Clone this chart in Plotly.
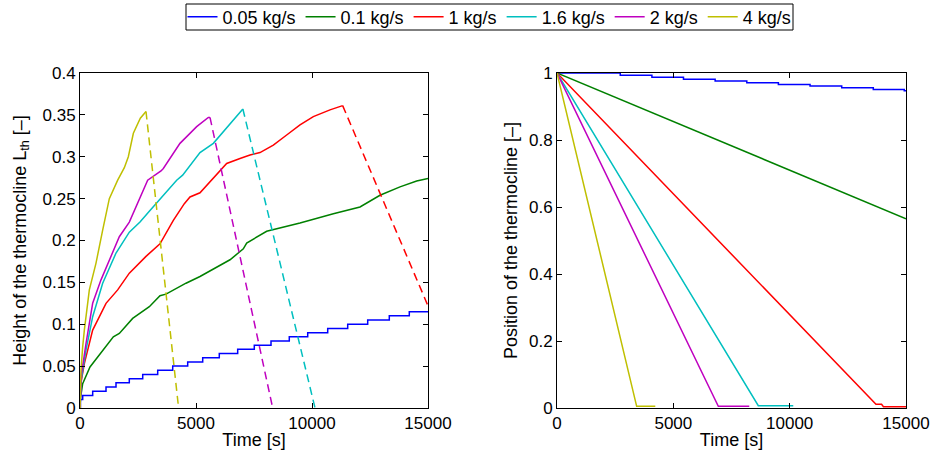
import plotly.graph_objects as go

W, H = 936, 459

names = ["0.05 kg/s", "0.1 kg/s", "1 kg/s", "1.6 kg/s", "2 kg/s", "4 kg/s"]
colors = ["#0000ff", "#008000", "#ff0000", "#00bfbf", "#bf00bf", "#bfbf00"]

# ---------- Left panel: height of the thermocline (solid = charging, dashed = discharge)
blue_t = [0, 20, 116, 547, 1121, 1552, 2125, 2703, 3349, 3996, 4642, 5289, 6004, 6797,
          7513, 8233, 9021, 9815, 10677, 11539, 12401, 13332, 14194, 15000]
blue_h = [0, 0.01, 0.015, 0.02, 0.025, 0.03, 0.035, 0.04, 0.045, 0.05, 0.055, 0.06, 0.065,
          0.07, 0.075, 0.08, 0.085, 0.09, 0.095, 0.1, 0.105, 0.11, 0.115, 0.115]

green_t = [0, 20, 72, 115, 431, 546, 1006, 1121, 1437, 1695, 2270, 2988, 3448, 3707, 4569,
           5172, 6000, 6466, 7040, 7184, 8046, 9483, 10920, 12069, 12931, 13793, 14511, 15000]
green_h = [0, 0.012, 0.021, 0.029, 0.049, 0.053, 0.069, 0.073, 0.085, 0.089, 0.107, 0.121,
           0.134, 0.136, 0.149, 0.157, 0.170, 0.177, 0.190, 0.197, 0.211, 0.221, 0.232,
           0.240, 0.254, 0.264, 0.271, 0.274]

red_t = [0, 40, 187, 546, 1121, 1624, 2126, 2845, 3448, 4023, 4497, 4741, 5172, 5460, 6322,
         6897, 7328, 7759, 8333, 8908, 9483, 10057, 10776, 11322]
red_h = [0, 0.03, 0.053, 0.093, 0.125, 0.141, 0.161, 0.181, 0.196, 0.224, 0.244, 0.252,
         0.257, 0.266, 0.292, 0.298, 0.302, 0.305, 0.314, 0.326, 0.338, 0.348, 0.356, 0.361]
red_dis_t = [11322, 15000]
red_dis_h = [0.361, 0.122]

cyan_t = [0, 60, 259, 546, 977, 1552, 2126, 2586, 2988, 3305, 3563, 4167, 4425, 5172, 5747,
          6322, 6897, 7020]
cyan_h = [0, 0.035, 0.069, 0.109, 0.149, 0.185, 0.21, 0.222, 0.235, 0.245, 0.252, 0.272,
          0.278, 0.305, 0.316, 0.334, 0.352, 0.357]
cyan_dis_t = [7020, 10130]
cyan_dis_h = [0.357, 0.0]

mag_t = [0, 60, 259, 546, 905, 1264, 1695, 2126, 2557, 2917, 3491, 3592, 4310, 5029, 5531, 5603]
mag_h = [0, 0.04, 0.077, 0.125, 0.153, 0.177, 0.2045, 0.222, 0.25, 0.272, 0.283, 0.286,
         0.316, 0.336, 0.347, 0.347]
mag_dis_t = [5603, 8305]
mag_dis_h = [0.347, 0.0]

yel_t = [0, 43, 115, 187, 402, 690, 977, 1264, 1624, 1911, 2083, 2300, 2600, 2845]
yel_h = [0, 0.045, 0.073, 0.093, 0.141, 0.173, 0.2125, 0.25, 0.272, 0.287, 0.300, 0.328,
         0.346, 0.354]
yel_dis_t = [2845, 4250]
yel_dis_h = [0.354, 0.0]

# ---------- Right panel: position of the thermocline
pblue_t = [0, 2718, 4079, 5436, 6797, 8158, 9515, 10876, 12237, 13594, 14925, 15000]
pblue_p = [1.0, 0.993, 0.987, 0.981, 0.976, 0.971, 0.966, 0.961, 0.956, 0.951, 0.947, 0.947]
pgreen_t = [0, 7500, 15000]
pgreen_p = [1.0, 0.782, 0.565]
pred_t = [0, 13709, 13950, 14030, 15000]
pred_p = [1.0, 0.011, 0.011, 0.004, 0.004]
pcyan_t = [0, 8652, 10155]
pcyan_p = [1.0, 0.007, 0.007]
pmag_t = [0, 6933, 8264]
pmag_p = [1.0, 0.005, 0.005]
pyel_t = [0, 3424, 4225]
pyel_p = [1.0, 0.005, 0.005]

x_ticks = [0, 5000, 10000, 15000]
x_tick_labels = ["0", "5000", "10000", "15000"]
left_y_ticks = [0, 0.05, 0.1, 0.15, 0.2, 0.25, 0.3, 0.35, 0.4]
left_y_labels = ["0", "0.05", "0.1", "0.15", "0.2", "0.25", "0.3", "0.35", "0.4"]
right_y_ticks = [0, 0.2, 0.4, 0.6, 0.8, 1]
right_y_labels = ["0", "0.2", "0.4", "0.6", "0.8", "1"]

fig = go.Figure()
LW = 1.5
DASH = "8px,5px"

left_solid = [(blue_t, blue_h), (green_t, green_h), (red_t, red_h),
              (cyan_t, cyan_h), (mag_t, mag_h), (yel_t, yel_h)]
left_dashed = [None, None, (red_dis_t, red_dis_h), (cyan_dis_t, cyan_dis_h),
               (mag_dis_t, mag_dis_h), (yel_dis_t, yel_dis_h)]
right = [(pblue_t, pblue_p), (pgreen_t, pgreen_p), (pred_t, pred_p),
         (pcyan_t, pcyan_p), (pmag_t, pmag_p), (pyel_t, pyel_p)]

for i, name in enumerate(names):
    x, y = left_solid[i]
    fig.add_trace(go.Scatter(x=x, y=y, mode="lines", name=name, legendgroup=name,
                             line=dict(color=colors[i], width=LW,
                                       shape="hv" if i == 0 else "linear"),
                             xaxis="x", yaxis="y"))
for i, name in enumerate(names):
    if left_dashed[i] is not None:
        x, y = left_dashed[i]
        fig.add_trace(go.Scatter(x=x, y=y, mode="lines", name=name, legendgroup=name,
                                 showlegend=False,
                                 line=dict(color=colors[i], width=LW, dash=DASH),
                                 xaxis="x", yaxis="y"))
for i, name in enumerate(names):
    x, y = right[i]
    fig.add_trace(go.Scatter(x=x, y=y, mode="lines", name=name, legendgroup=name,
                             showlegend=False,
                             line=dict(color=colors[i], width=LW,
                                       shape="hv" if i == 0 else "linear"),
                             xaxis="x2", yaxis="y2"))

axis_common = dict(showline=True, linecolor="black", linewidth=1, mirror="ticks",
                   ticks="inside", ticklen=5, tickcolor="black", showgrid=False,
                   zeroline=False, automargin=False,
                   tickfont=dict(size=17, color="black"))
title_font = dict(size=18, color="black")

fig.update_layout(
    width=W, height=H,
    margin=dict(l=0, r=0, t=0, b=0, autoexpand=False),
    paper_bgcolor="white", plot_bgcolor="white",
    font=dict(family="Liberation Sans, Arial, sans-serif", size=17, color="black"),
    xaxis=dict(domain=[80 / W, 428 / W], range=[0, 15000], tickvals=x_ticks,
               ticktext=x_tick_labels,
               title=dict(text="Time [s]", standoff=0, font=title_font),
               anchor="y", **axis_common),
    yaxis=dict(domain=[(H - 408) / H, (H - 73) / H], range=[0, 0.4], tickvals=left_y_ticks,
               ticktext=left_y_labels,
               title=dict(text="Height of the thermocline L<sub>th</sub> [–]", standoff=11,
                          font=title_font),
               anchor="x", **axis_common),
    xaxis2=dict(domain=[557 / W, 906 / W], range=[0, 15000], tickvals=x_ticks,
                ticktext=x_tick_labels,
                title=dict(text="Time [s]", standoff=0, font=title_font),
                anchor="y2", **axis_common),
    yaxis2=dict(domain=[(H - 408) / H, (H - 73) / H], range=[0, 1], tickvals=right_y_ticks,
                ticktext=right_y_labels,
                title=dict(text="Position of the thermocline [–]", standoff=6,
                           font=title_font),
                anchor="x2", **axis_common),
    legend=dict(orientation="h", xref="paper", yref="paper",
                x=489.5 / W, xanchor="center", y=1 - 17 / H, yanchor="middle",
                borderwidth=0, bgcolor="rgba(0,0,0,0)",
                font=dict(size=18), tracegroupgap=0),
    showlegend=True,
    shapes=[dict(type="rect", xref="paper", yref="paper",
                 x0=186 / W, x1=793 / W, y0=1 - 30 / H, y1=1 - 4 / H,
                 line=dict(color="black", width=1), fillcolor="rgba(0,0,0,0)",
                 layer="below")],
)

fig.write_html("out.html")
